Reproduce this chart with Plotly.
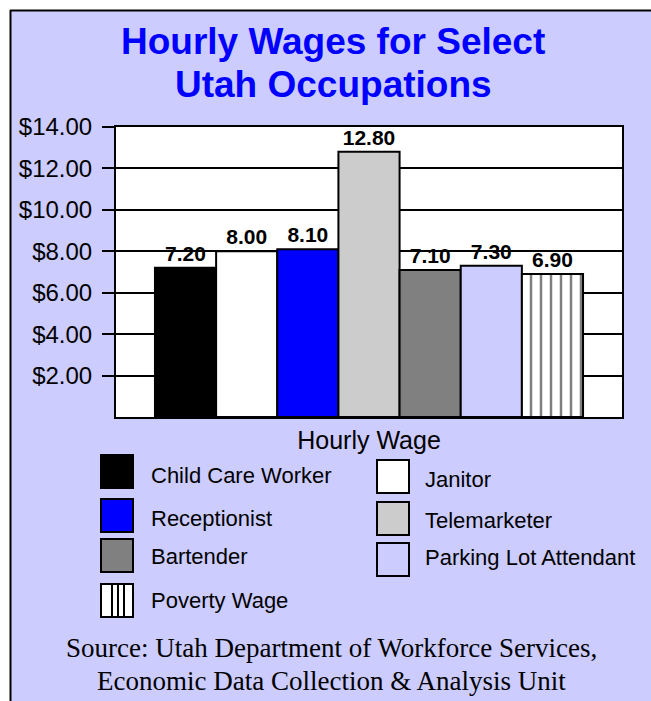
import plotly.graph_objects as go

# ---- data ----
occupations = ["Child Care Worker", "Janitor", "Receptionist", "Telemarketer",
               "Bartender", "Parking Lot Attendant", "Poverty Wage"]
wages = [7.20, 8.00, 8.10, 12.80, 7.10, 7.30, 6.90]
category = ["Hourly Wage"]
tick_values = [2, 4, 6, 8, 10, 12, 14]
tick_labels = ["$2.00", "$4.00", "$6.00", "$8.00", "$10.00", "$12.00", "$14.00"]
title_lines = ["Hourly Wages for Select", "Utah Occupations"]
source_lines = ["Source: Utah Department of Workforce Services,",
                "Economic Data Collection & Analysis Unit"]

# ---- styles ----
fills = ["#000000", "#FFFFFF", "#0000FF", "#CCCCCC", "#808080", "#CCCCFF", "#FFFFFF"]
patterns = ["", "", "", "", "", "", "|"]
BG = "#CCCCFF"
W, H = 651, 701
# plot area in page pixels
L, R, T, B = 116, 622, 127, 417
SANS = "Arial, Liberation Sans, sans-serif"
SERIF = "Times New Roman, Liberation Serif, serif"


def px(x):
    return (x - L) / (R - L)


def py(y):
    return (B - y) / (B - T)


fig = go.Figure()
for name, val, col, pat in zip(occupations, wages, fills, patterns):
    marker = dict(color=col, line=dict(color="black", width=2))
    if pat:
        marker["pattern"] = dict(shape=pat, fgcolor="black", bgcolor="white",
                                 size=10, solidity=0.25, fillmode="overlay")
    fig.add_trace(go.Bar(
        x=category, y=[val], name=name, marker=marker,
        texttemplate="%{y:.2f}", textposition="outside",
        textfont=dict(family=SANS, size=21, color="black", weight="bold"),
        cliponaxis=False, showlegend=False,
    ))

fig.update_layout(
    width=W, height=H,
    margin=dict(l=L, r=W - R, t=T, b=H - B),
    paper_bgcolor=BG, plot_bgcolor="white",
    barmode="group", bargap=0.154, bargroupgap=0,
    font=dict(family=SANS, color="black"),
)
fig.update_xaxes(
    showline=True, linecolor="black", linewidth=2, mirror=True,
    showgrid=False, ticks="", tickfont=dict(size=25, family=SANS, color="black"),
)
fig.update_yaxes(
    range=[0, 14], tickvals=tick_values, ticktext=tick_labels,
    showline=True, linecolor="black", linewidth=2, mirror=True,
    showgrid=True, gridcolor="black", gridwidth=2, zeroline=False,
    ticks="outside", ticklen=12, tickcolor="black", tickwidth=2,
    ticklabelstandoff=5,
    tickfont=dict(size=24, family=SANS, color="black"),
)

shapes = []
annotations = []

# outer white margin and black frame
shapes.append(dict(type="rect", xref="paper", yref="paper", x0=px(-5), x1=px(W + 5),
                   y0=py(10), y1=py(-5), fillcolor="white", line=dict(width=0)))
shapes.append(dict(type="rect", xref="paper", yref="paper", x0=px(-5), x1=px(10),
                   y0=py(H + 5), y1=py(-5), fillcolor="white", line=dict(width=0)))
shapes.append(dict(type="line", xref="paper", yref="paper", x0=px(10), x1=px(W + 5),
                   y0=py(10.5), y1=py(10.5), line=dict(color="black", width=2)))
shapes.append(dict(type="line", xref="paper", yref="paper", x0=px(10.5), x1=px(10.5),
                   y0=py(10), y1=py(H + 5), line=dict(color="black", width=2)))

# title
for i, line in enumerate(title_lines):
    annotations.append(dict(xref="paper", yref="paper", x=px(333), y=py(42 + 43 * i),
                            text="<b>" + line + "</b>", showarrow=False,
                            xanchor="center", yanchor="middle",
                            font=dict(family=SANS, size=37, color="#0000FF")))

# legend (manual, large swatches)
legend_pos = [
    (101, 455, 149, 475),
    (377, 460, 423, 479),
    (101, 499, 149, 518),
    (377, 502, 423, 520),
    (101, 539, 149, 556),
    (377, 543, 423, 557),
    (101, 584, 149, 600),
]
for name, col, pat, (sx, sy, tx, ty) in zip(occupations, fills, patterns, legend_pos):
    shapes.append(dict(type="rect", xref="paper", yref="paper",
                       x0=px(sx), x1=px(sx + 32), y0=py(sy + 33), y1=py(sy),
                       fillcolor=col, line=dict(color="black", width=2)))
    if pat == "|":
        for lx in (112, 118, 124):
            shapes.append(dict(type="line", xref="paper", yref="paper",
                               x0=px(lx), x1=px(lx), y0=py(sy + 33), y1=py(sy),
                               line=dict(color="black", width=2)))
    annotations.append(dict(xref="paper", yref="paper", x=px(tx), y=py(ty),
                            text=name, showarrow=False, xanchor="left", yanchor="middle",
                            font=dict(family=SANS, size=22, color="black")))

# source
for i, line in enumerate(source_lines):
    annotations.append(dict(xref="paper", yref="paper", x=px(331), y=py(648 + 33 * i),
                            text=line, showarrow=False, xanchor="center", yanchor="middle",
                            font=dict(family=SERIF, size=27, color="black")))

fig.update_layout(shapes=shapes, annotations=annotations)
fig.write_html(
    "out.html",
    config={"displayModeBar": False},
    post_script="document.body.style.margin='0';document.body.style.overflow='hidden';",
)
